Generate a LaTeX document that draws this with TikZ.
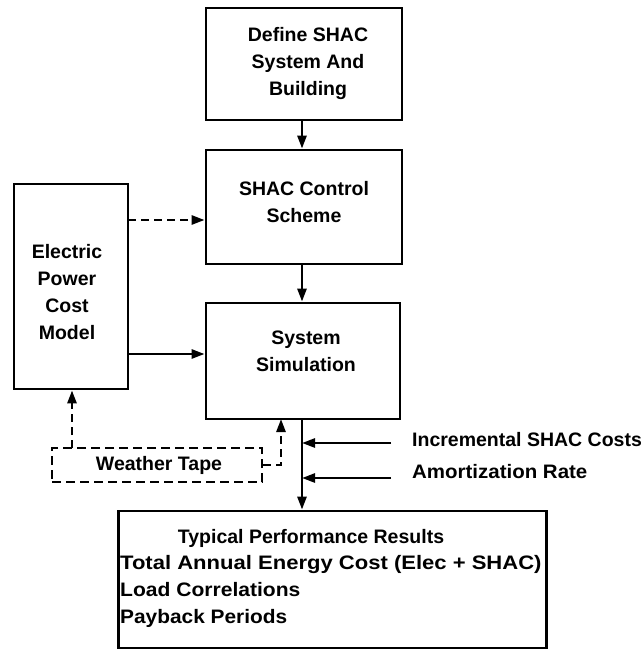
\documentclass[tikz,border=0pt]{standalone}
\usepackage{fontspec}
\setmainfont{Liberation Sans}
\usetikzlibrary{arrows.meta}
\begin{document}
\begin{tikzpicture}[x=1pt,y=-1pt,
 box/.style={draw, line width=2.8pt, inner sep=0pt},
 dbox/.style={box, line width=2.5pt, dash pattern=on 9pt off 5pt},
 txt/.style={font=\fontsize{19.5}{27}\selectfont\bfseries, align=center, inner sep=0pt},
 conn/.style={line width=2.6pt, -{Triangle[length=13pt,width=9pt]}},
 dconn/.style={conn, dash pattern=on 8pt off 5pt}]
\useasboundingbox (0,0) rectangle (643,659);
% boxes
\node[box, minimum width=196pt, minimum height=112pt] (def) at (304,64) {};
\node[box, minimum width=196pt, minimum height=114pt] (ctrl) at (304,207) {};
\node[box, minimum width=114pt, minimum height=205pt] (elec) at (71,286.5) {};
\node[box, minimum width=194pt, minimum height=116pt] (sim) at (303,361) {};
\node[dbox, minimum width=210pt, minimum height=34pt] (wt) at (157,465) {};
\node[box, minimum width=428pt, minimum height=137pt] (res) at (332.5,579.5) {};
% texts
\node[txt] (defT) at (308,63) {Define SHAC\\System And\\Building};
\node[txt] (ctrlT) at (304,202) {SHAC Control\\Scheme};
\node[txt] (elecT) at (67,292) {Electric\\Power\\Cost\\Model};
\node[txt] (simT) at (306,351) {System\\Simulation};
\node[txt] (wtT) at (159,465) {Weather Tape};
\node[txt] (resT) at (311,538) {Typical Performance Results};
\node[txt, align=left, anchor=west] (resL) at (120,591) {\scalebox{1.13}[1]{Total Annual Energy Cost (Elec + SHAC)}\\\scalebox{1.08}[1]{Load Correlations}\\\scalebox{1.07}[1]{Payback Periods}};
\node[txt, anchor=west] (incT) at (412,440) {Incremental SHAC Costs};
\node[txt, anchor=west] (amT) at (412,472) {\scalebox{1.05}[1]{Amortization Rate}};
% helper coordinates
\coordinate (c0) at (302,0);
\coordinate (e1) at (128,220);
\coordinate (e2) at (128,354);
\coordinate (wa) at (72,448);
\coordinate (wr) at (281,419);
\coordinate (i1) at (391,443);
\coordinate (i2) at (391,478);
\coordinate (ml) at (302,443);
\coordinate (m2) at (302,478);
% connectors
\draw[conn] (def.south -| c0) -- (ctrl.north -| c0);
\draw[conn] (ctrl.south -| c0) -- (sim.north -| c0);
\draw[dconn] (e1) -- (e1 -| ctrl.west);
\draw[conn] (e2) -- (e2 -| sim.west);
\draw[dconn] (wa) -- (wa |- elec.south);
\draw[dconn] (wt.east) -| (wr);
\draw[conn] (sim.south -| ml) -- (ml |- res.north);
\draw[conn] (i1) -- (ml);
\draw[conn] (i2) -- (m2);
\end{tikzpicture}
\end{document}
